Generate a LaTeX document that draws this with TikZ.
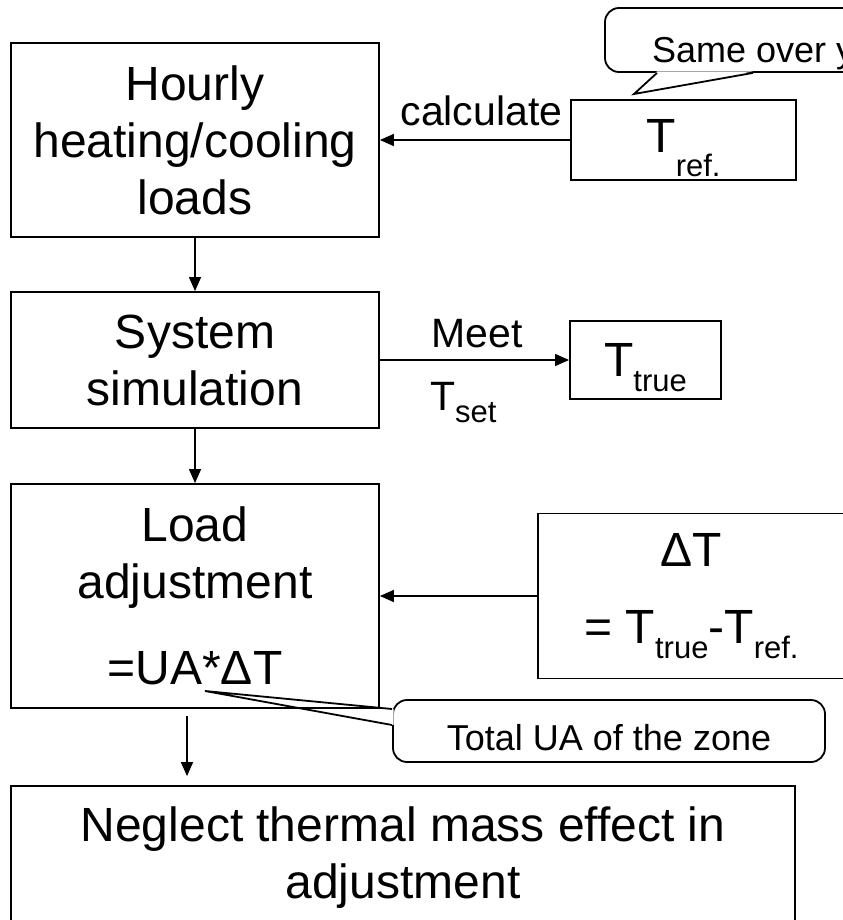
\documentclass[tikz,border=0pt]{standalone}
\usepackage{fontspec}
\setmainfont{Liberation Sans}
\usetikzlibrary{arrows.meta,calc}
\newcommand{\sbs}[2][15bp]{\raisebox{-#1}{\fontsize{31bp}{31bp}\selectfont #2}}
\tikzset{
  box/.style={rectangle, draw, line width=1.8bp, align=center, inner sep=0pt,
              font=\fontsize{48bp}{57bp}\selectfont},
  lbl/.style={inner sep=0pt, font=\fontsize{41bp}{41bp}\selectfont},
  note/.style={rectangle, draw, rounded corners=14bp, line width=1.8bp, inner sep=0pt,
               font=\fontsize{36bp}{36bp}\selectfont},
  tailline/.style={line width=1.8bp, line join=miter},
  arr/.style={-{Triangle[length=14bp,width=12bp]}, line width=1.3bp}
}
\begin{document}
\begin{tikzpicture}[x=1bp,y=-1bp]
  \useasboundingbox (0,0) rectangle (843,920);
  \clip (0,0) rectangle (843,920);
  \node[box, minimum width=368bp, minimum height=194bp] (hourly) at (195,140) {Hourly\\heating/cooling\\loads};
  \node[box, minimum width=368bp, minimum height=136bp] (sysim) at (195,360) {System\\simulation};
  \node[box, minimum width=368bp, minimum height=224bp] (loadadj) at (195,596) {Load\\adjustment\\[29bp]=UA*ΔT};
  \node[box, minimum width=784bp, minimum height=144bp] (neglect) at (403,858) {Neglect thermal mass effect in\\adjustment};
  \node[box, minimum width=225bp, minimum height=80bp, text depth=9bp] (tref) at (683.5,140) {T\sbs[24bp]{ref.}};
  \node[box, minimum width=151bp, minimum height=78bp, text depth=0pt] (ttrue) at (645.5,360) {T\sbs{true}};
  \node[box, minimum width=307bp, minimum height=165bp] (dT) at (691.5,596) {ΔT\\[20bp]= T\sbs{true}-T\sbs{ref.}};
  \node[lbl, anchor=base] (calc) at (481.5,125) {calculate};
  \node[lbl, anchor=base] (meet) at (477,347) {Meet};
  \node[lbl, anchor=base west] (tset) at (430,410) {T\sbs[12bp]{set}};

  \draw[arr] (hourly) -- (sysim);
  \draw[arr] (sysim) -- (loadadj);
  \coordinate (adjout) at ([xshift=-8bp,yshift=-7bp]loadadj.south);
  \draw[arr] (adjout) -- ([yshift=9bp]adjout |- neglect.north);
  \draw[arr] (tref) -- (hourly);
  \draw[arr] (sysim) -- (ttrue);
  \draw[arr] (dT) -- (loadadj);

  \node[note, minimum width=295bp, minimum height=64bp] (same) at (752.5,40) {};
  \node[anchor=base west, inner sep=0pt, font=\fontsize{36bp}{36bp}\selectfont] (sametxt) at (652,62) {Same over y};
  \coordinate (sametip) at (634,94);
  \fill[white] ($(same.south)+(-95.5,-1.5)$) -- (sametip) -- ($(same.south)+(0.5,-1.5)$) -- cycle;
  \draw[tailline] ($(same.south)+(-95.5,0)$) -- (sametip) -- ($(same.south)+(0.5,0)$);

  \node[note, minimum width=432bp, minimum height=62bp, text height=38bp, text depth=0pt] (ua) at (609,731) {Total UA of the zone};
  \coordinate (uatip) at (205,691);
  \begin{scope}
    \clip ($(ua.west)+(-6,-30)$) rectangle ($(ua.west)+(3,0)$);
    \fill[white] ($(ua.west)+(1.5,-22)$) -- (uatip) -- ($(ua.west)+(1.5,-6)$) -- cycle;
  \end{scope}
  \draw[tailline] ($(ua.west)+(0,-22)$) -- (uatip) -- ($(ua.west)+(0,-6)$);
\end{tikzpicture}
\end{document}
